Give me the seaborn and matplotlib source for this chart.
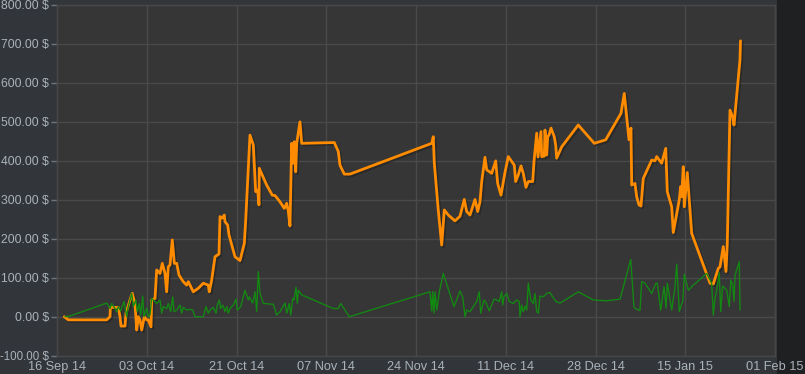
import numpy as np
import pandas as pd
import matplotlib
matplotlib.use("Agg")
import matplotlib.pyplot as plt
import matplotlib.patheffects as pe
import seaborn as sns

# ---------------- data ----------------
start_date = "2014-09-16"
x_tick_labels = ["16 Sep 14", "03 Oct 14", "21 Oct 14", "07 Nov 14", "24 Nov 14",
                 "11 Dec 14", "28 Dec 14", "15 Jan 15", "01 Feb 15"]
y_ticks = [-100, 0, 100, 200, 300, 400, 500, 600, 700, 800]

# orange series: days since start, value in $
orange_days = [1.40, 2.17, 9.55, 10.19, 10.25, 11.78, 12.11, 12.30, 13.07, 13.26, 14.03, 14.47,
               14.99, 15.32, 15.63, 15.95, 16.28, 16.78, 17.24, 17.55, 18.07, 18.20, 18.84, 19.16,
               19.80, 20.24, 20.76, 21.08, 21.39, 21.72, 22.16, 22.55, 23.01, 23.45, 24.27, 24.93,
               25.24, 26.20, 27.16, 28.12, 29.08, 29.27, 29.73, 30.37, 31.14, 31.33, 31.77, 32.15,
               32.29, 32.81, 33.06, 34.21, 35.17, 36.00, 36.27, 37.09, 37.73, 38.19, 38.57, 38.82,
               38.88, 40.30, 41.38, 41.90, 42.86, 43.69, 44.15, 44.46, 44.78, 44.97, 45.10, 45.42,
               45.61, 45.88, 46.07, 46.70, 47.03, 53.30, 54.07, 54.39, 55.22, 56.31, 72.02, 72.32,
               72.52, 73.28, 73.94, 74.44, 75.21, 76.49, 77.46, 78.28, 78.74, 79.38, 80.34, 80.86,
               81.30, 81.63, 82.26, 82.59, 83.55, 84.32, 84.70, 85.34, 86.10, 86.74, 87.89, 88.16,
               88.66, 89.18, 89.62, 90.14, 90.58, 91.43, 91.68, 92.20, 92.45, 93.02, 93.16, 93.66,
               93.79, 94.12, 94.31, 94.56, 94.95, 95.58, 95.85, 96.04, 97.00, 100.19, 103.27, 105.46,
               108.40, 109.03, 109.94, 110.32, 110.46, 111.09, 111.42, 111.86, 112.24, 112.69, 114.30,
               114.94, 115.26, 116.22, 117.00, 117.30, 118.15, 118.45, 119.60, 119.87, 120.07, 120.37,
               120.57, 121.14, 121.99, 125.51, 126.14, 127.10, 127.43, 128.06, 128.58, 128.83, 129.35,
               129.87, 130.12, 131.27, 131.37]
orange_vals = [0, -8, -8, 0, 24, 24, 0, -24, -24, 9, 43, 60,
               34, -34, 0, -8, -34, 0, -8, -8, -26, 43, 47, 120,
               111, 137, 111, 64, 128, 133, 197, 137, 137, 107, 90, 81,
               90, 64, 73, 86, 81, 64, 94, 154, 161, 257, 253, 261,
               244, 235, 210, 154, 144, 188, 248, 466, 441, 321, 325, 287,
               381, 338, 312, 311, 295, 278, 291, 270, 233, 351, 445, 394,
               449, 372, 445, 500, 445, 447, 424, 389, 366, 366, 445, 462,
               394, 274, 184, 274, 261, 246, 258, 301, 270, 261, 301, 270,
               295, 347, 409, 377, 368, 400, 342, 312, 370, 411, 389, 347,
               364, 387, 368, 332, 347, 347, 398, 471, 410, 475, 411, 412,
               479, 415, 462, 466, 484, 462, 441, 407, 436, 492, 445, 454,
               522, 573, 454, 484, 338, 342, 308, 287, 284, 355, 402,
               400, 411, 394, 432, 321, 282, 216, 300, 334, 308, 385,
               282, 370, 214, 86, 84, 124, 128, 180, 116, 188, 530,
               513, 492, 659, 708]

# green series: days since start, value in $
green_days = [1.54, 2.50, 9.55, 10.19, 10.51, 11.15, 11.47, 11.78, 12.24, 12.88, 13.40, 13.70,
              14.36, 14.66, 15.18, 15.43, 15.82, 16.09, 16.47, 16.72, 17.24, 17.55, 17.87, 18.20,
              18.51, 19.16, 19.80, 20.12, 20.43, 21.08, 21.39, 21.85, 22.24, 22.49, 23.01, 23.64,
              23.97, 24.27, 24.93, 25.56, 26.08, 26.52, 28.12, 28.64, 29.08, 29.54, 30.04, 30.56,
              30.81, 31.19, 31.46, 31.85, 32.29, 32.62, 32.92, 33.25, 33.89, 34.40, 34.65, 35.31,
              36.13, 36.77, 36.96, 37.61, 38.06, 38.38, 38.69, 39.02, 39.65, 41.57, 42.23, 42.86,
              43.82, 44.15, 44.65, 44.92, 45.30, 45.55, 45.94, 46.19, 46.38, 47.03, 53.11, 54.07,
              54.53, 56.18, 71.69, 72.02, 72.21, 72.46, 72.65, 72.98, 73.48, 74.25, 76.30, 77.46,
              77.97, 78.42, 78.74, 79.38, 80.01, 80.67, 81.17, 81.43, 82.07, 82.45, 83.09, 83.99,
              84.51, 85.01, 85.47, 85.66, 85.91, 86.43, 86.93, 87.70, 88.35, 88.85, 88.99, 89.31,
              89.62, 89.95, 90.28, 90.58, 91.05, 91.55, 91.87, 92.20, 92.51, 92.83, 93.47, 94.12,
              94.75, 95.27, 95.91, 96.68, 100.19, 103.08, 105.65, 108.21, 110.27, 110.90, 111.42,
              112.05, 112.38, 113.01, 114.30, 115.13, 115.38, 116.03, 116.67, 117.05, 117.30, 117.68,
              118.15, 118.78, 119.11, 119.61, 120.07, 120.26, 120.57, 121.34, 122.30, 124.87, 125.83,
              126.14, 126.47, 126.79, 127.29, 127.56, 127.94, 128.39, 128.72, 129.22, 129.49, 129.87,
              130.12, 130.32, 131.14, 131.27]
green_vals = [0, 2, 35, 21, 34, 21, 13, 26, 15, 39, 0, 26,
              60, 26, 43, 13, 34, 4, 53, 0, 22, 0, 4, 47,
              43, 34, 43, 9, 26, 21, 34, 13, 51, 13, 17, 30,
              9, 24, 17, 19, 17, 0, 0, 26, 9, 19, 24, 9,
              30, 43, 21, 30, 13, 26, 9, 21, 30, 45, 17, 26,
              68, 43, 51, 35, 64, 13, 116, 60, 34, 32, 4, 13,
              35, 9, 34, 4, 47, 43, 75, 34, 68, 56, 21, 21,
              34, 0, 64, 15, 64, 9, 64, 17, 64, 111, 26, 66,
              51, 0, 17, 13, 26, 39, 64, 9, 43, 36, 15, 45,
              43, 39, 64, 30, 51, 60, 39, 34, 43, 39, 0, 30,
              13, 27, 17, 86, 43, 34, 60, 13, 9, 53, 51, 60,
              62, 51, 39, 35, 64, 43, 41, 45, 147, 24, 19,
              16, 90, 86, 60, 86, 86, 17, 77, 22, 86, 56,
              17, 77, 135, 13, 34, 38, 109, 68, 81, 111, 86,
              4, 47, 68, 113, 13, 79, 73, 68, 26, 94, 81,
              39, 107, 141, 17]

# ---------------- build ----------------
t0 = pd.Timestamp(start_date)
orange_df = pd.DataFrame({"date": t0 + pd.to_timedelta(orange_days, unit="D"), "value": orange_vals})
green_df = pd.DataFrame({"date": t0 + pd.to_timedelta(green_days, unit="D"), "value": green_vals})

sns.set_style("dark")
plt.rcParams["font.family"] = ["Liberation Sans", "DejaVu Sans"]

W, H = 805, 374
fig = plt.figure(figsize=(W / 100, H / 100), dpi=100, facecolor="#32363b")
# darker strip on the right side of the page (drawn behind the axes and labels)
fig.patches.append(plt.Rectangle((777 / W, 0), 1 - 777 / W, 1, transform=fig.transFigure,
                                 facecolor="#1f2022", edgecolor="none", zorder=-5))
ax = fig.add_axes([57 / W, 1 - 355.7 / H, 718 / W, 350.7 / H])
ax.set_zorder(2)
ax.set_facecolor("#363636")

sns.lineplot(data=orange_df, x="date", y="value", sort=False, estimator=None, ax=ax,
             color="#ff8c00", linewidth=2.0,
             path_effects=[pe.SimpleLineShadow(offset=(1.2, -1.2), shadow_color="#1a1a1a", alpha=0.45),
                           pe.Normal()])
sns.lineplot(data=green_df, x="date", y="value", sort=False, estimator=None, ax=ax,
             color="#128a12", linewidth=0.95)

# axes
x_end = t0 + pd.Timedelta(days=138)
ax.set_xlim(t0, x_end)
tick_pos = [t0 + pd.Timedelta(days=17.25 * k) for k in range(len(x_tick_labels))]
ax.set_xticks(tick_pos)
ax.set_xticklabels(x_tick_labels)
ax.set_ylim(-100, 800)
ax.set_yticks(y_ticks)
ax.set_yticklabels([f"{v:.2f} $" for v in y_ticks])

ax.set_xlabel("")
ax.set_ylabel("")
ax.grid(True, color="#4a4a4a", linewidth=1.0)
ax.set_axisbelow(True)
for s in ax.spines.values():
    s.set_visible(True)
    s.set_color("#474747")
    s.set_linewidth(1.0)

ax.tick_params(axis="y", colors="#6f747a", length=4.5, width=1, pad=1, labelsize=8.8,
               labelcolor="#aab2ba", left=True)
ax.tick_params(axis="x", length=0, pad=3.5, labelsize=9.2, labelcolor="#aab2ba")
# the widest label (negative value) is set a touch smaller so it fits the left edge
for lbl in ax.get_yticklabels():
    if lbl.get_text().startswith("-"):
        lbl.set_fontsize(8.3)

fig.savefig("out.png", dpi=100, facecolor=fig.get_facecolor())
